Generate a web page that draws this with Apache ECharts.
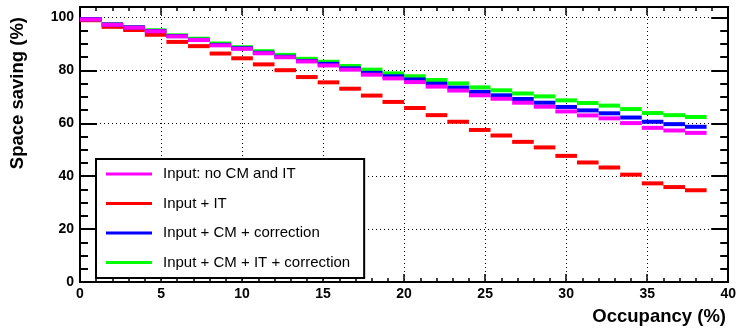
<!DOCTYPE html>
<html>
<head>
<meta charset="utf-8">
<script src="https://cdn.jsdelivr.net/npm/echarts@6/dist/echarts.min.js"></script>
<style>
  html, body { margin: 0; padding: 0; background: #fff; }
  #main { width: 739px; height: 334px; }
</style>
</head>
<body>
<div id="main"></div>
<script>
  // bins: 29 bins of width 4/3 starting at 0
  var binStart = 0;
  var binWidth = 4 / 3;
  var xTicks = [0, 5, 10, 15, 20, 25, 30, 35, 40];
  var yTicks = [0, 20, 40, 60, 80, 100];

  var seriesNames = ['Input: no CM and IT', 'Input + IT', 'Input + CM + correction', 'Input + CM + IT + correction'];
  var seriesColors = ['#ff00ff', '#ff0000', '#0000ff', '#00ff00'];

  var noCmIt = [99.3, 97.3, 96.2, 94.8, 92.9, 91.5, 89.5, 88.2, 86.5, 85.0, 83.4, 81.9, 80.3, 78.4, 77.0, 75.6, 73.9, 72.4, 70.6, 69.3, 67.8, 66.3, 64.5, 63.0, 61.9, 60.1, 58.3, 57.3, 56.4];
  var inputIt = [99.0, 96.5, 95.3, 93.5, 90.8, 89.2, 86.4, 84.6, 82.3, 80.1, 77.5, 75.5, 73.1, 70.5, 68.1, 65.8, 63.1, 60.6, 57.5, 55.4, 53.0, 50.9, 47.7, 45.2, 43.3, 40.6, 37.3, 35.9, 34.7];
  var inputCm = [99.4, 97.4, 96.3, 94.9, 93.0, 91.6, 89.7, 88.4, 86.7, 85.2, 83.6, 82.5, 80.8, 79.1, 77.8, 76.6, 75.0, 73.5, 71.9, 70.6, 69.2, 67.8, 66.2, 64.9, 63.8, 62.2, 60.6, 59.7, 58.7];
  var inputCmIt = [99.4, 97.5, 96.4, 95.2, 93.3, 92.0, 90.2, 88.8, 87.3, 85.9, 84.4, 83.3, 81.7, 80.3, 78.9, 77.8, 76.4, 75.1, 73.6, 72.5, 71.3, 70.2, 68.7, 67.7, 66.7, 65.4, 63.9, 63.1, 62.4];

  var fontName = 'Liberation Sans';

  // [low edge, high edge, value] for each bin
  function toBins(values) {
    return values.map(function (v, i) {
      return [binStart + i * binWidth, binStart + (i + 1) * binWidth, v];
    });
  }

  // horizontal bar per bin, like a ROOT histogram drawn without verticals
  function renderStep(params, api) {
    var p0 = api.coord([api.value(0), api.value(2)]);
    var p1 = api.coord([api.value(1), api.value(2)]);
    return {
      type: 'rect',
      shape: { x: p0[0], y: p0[1] - 2, width: p1[0] - p0[0], height: 4 },
      style: { fill: api.visual('color') }
    };
  }

  function stepSeries(idx, values) {
    return {
      name: seriesNames[idx],
      type: 'custom',
      renderItem: renderStep,
      itemStyle: { color: seriesColors[idx] },
      encode: { x: [0, 1], y: 2 },
      data: toBins(values),
      silent: true
    };
  }

  var chart = echarts.init(document.getElementById('main'), null, { renderer: 'canvas' });

  var tickLabel = { fontFamily: fontName, fontWeight: 'bold', fontSize: 14, color: '#000' };

  var option = {
    animation: false,
    backgroundColor: '#fff',
    grid: {
      left: 80, right: 8, top: 7, bottom: 52,
      show: true, borderColor: '#000', borderWidth: 1.5, backgroundColor: 'transparent'
    },
    legend: {
      left: 96,
      top: 159,
      orient: 'vertical',
      data: [
        { name: seriesNames[0], icon: 'rect' },
        { name: seriesNames[1], icon: 'rect' },
        { name: seriesNames[2], icon: 'rect' },
        { name: seriesNames[3], icon: 'rect' }
      ],
      itemWidth: 46,
      itemHeight: 3,
      itemGap: 13.5,
      padding: [7, 14, 7.5, 10],
      backgroundColor: '#fff',
      borderColor: '#000',
      borderWidth: 2,
      borderRadius: 0,
      selectedMode: false,
      textStyle: { fontFamily: fontName, fontSize: 15, color: '#000', lineHeight: 16, padding: [0, 0, 0, 6] }
    },
    xAxis: [
      {
        type: 'value', min: xTicks[0], max: xTicks[xTicks.length - 1], interval: xTicks[1] - xTicks[0],
        axisLine: { show: true, onZero: false, lineStyle: { color: '#000', width: 2 } },
        axisTick: { inside: true, length: 8, lineStyle: { color: '#000', width: 1.5 } },
        minorTick: { show: true, splitNumber: 5, length: 4, lineStyle: { color: '#000', width: 1.5 } },
        axisLabel: Object.assign({ margin: 5 }, tickLabel),
        splitLine: { show: true, lineStyle: { color: '#000', type: [1, 3], width: 1 } }
      },
      {
        type: 'value', position: 'top', min: xTicks[0], max: xTicks[xTicks.length - 1], interval: xTicks[1] - xTicks[0],
        axisLine: { show: true, onZero: false, lineStyle: { color: '#000', width: 2 } },
        axisTick: { inside: true, length: 8, lineStyle: { color: '#000', width: 1.5 } },
        minorTick: { show: true, splitNumber: 5, length: 4, lineStyle: { color: '#000', width: 1.5 } },
        axisLabel: { show: false },
        splitLine: { show: false }
      }
    ],
    yAxis: [
      {
        type: 'value', min: yTicks[0], max: 104, interval: yTicks[1] - yTicks[0],
        axisLine: { show: true, onZero: false, lineStyle: { color: '#000', width: 2 } },
        axisTick: { inside: true, length: 17, lineStyle: { color: '#000', width: 2 } },
        minorTick: { show: true, splitNumber: 4, length: 8, lineStyle: { color: '#000', width: 2 } },
        axisLabel: Object.assign({
          margin: 6,
          formatter: function (v) { return yTicks.indexOf(v) >= 0 ? String(v) : ''; }
        }, tickLabel),
        splitLine: { show: true, lineStyle: { color: '#000', type: [1, 3], width: 1 } }
      },
      {
        type: 'value', position: 'right', min: yTicks[0], max: 104, interval: yTicks[1] - yTicks[0],
        axisLine: { show: true, onZero: false, lineStyle: { color: '#000', width: 2 } },
        axisTick: { inside: true, length: 17, lineStyle: { color: '#000', width: 2 } },
        minorTick: { show: true, splitNumber: 4, length: 8, lineStyle: { color: '#000', width: 2 } },
        axisLabel: { show: false },
        splitLine: { show: false }
      }
    ],
    // axis titles, ROOT style (right / top aligned)
    graphic: [
      {
        type: 'text', x: 18, y: 17, rotation: Math.PI / 2, z: 10,
        style: { text: 'Space saving (%)', fontFamily: fontName, fontWeight: 'bold', fontSize: 18.5, fill: '#000', align: 'right', verticalAlign: 'middle' }
      },
      {
        type: 'text', x: 726, y: 317, z: 10,
        style: { text: 'Occupancy (%)', fontFamily: fontName, fontWeight: 'bold', fontSize: 18.5, fill: '#000', align: 'right', verticalAlign: 'middle' }
      }
    ],
    // draw order: red and green under blue, magenta on top
    series: [
      stepSeries(1, inputIt),
      stepSeries(3, inputCmIt),
      stepSeries(2, inputCm),
      stepSeries(0, noCmIt)
    ]
  };

  option && chart.setOption(option);
</script>
</body>
</html>
